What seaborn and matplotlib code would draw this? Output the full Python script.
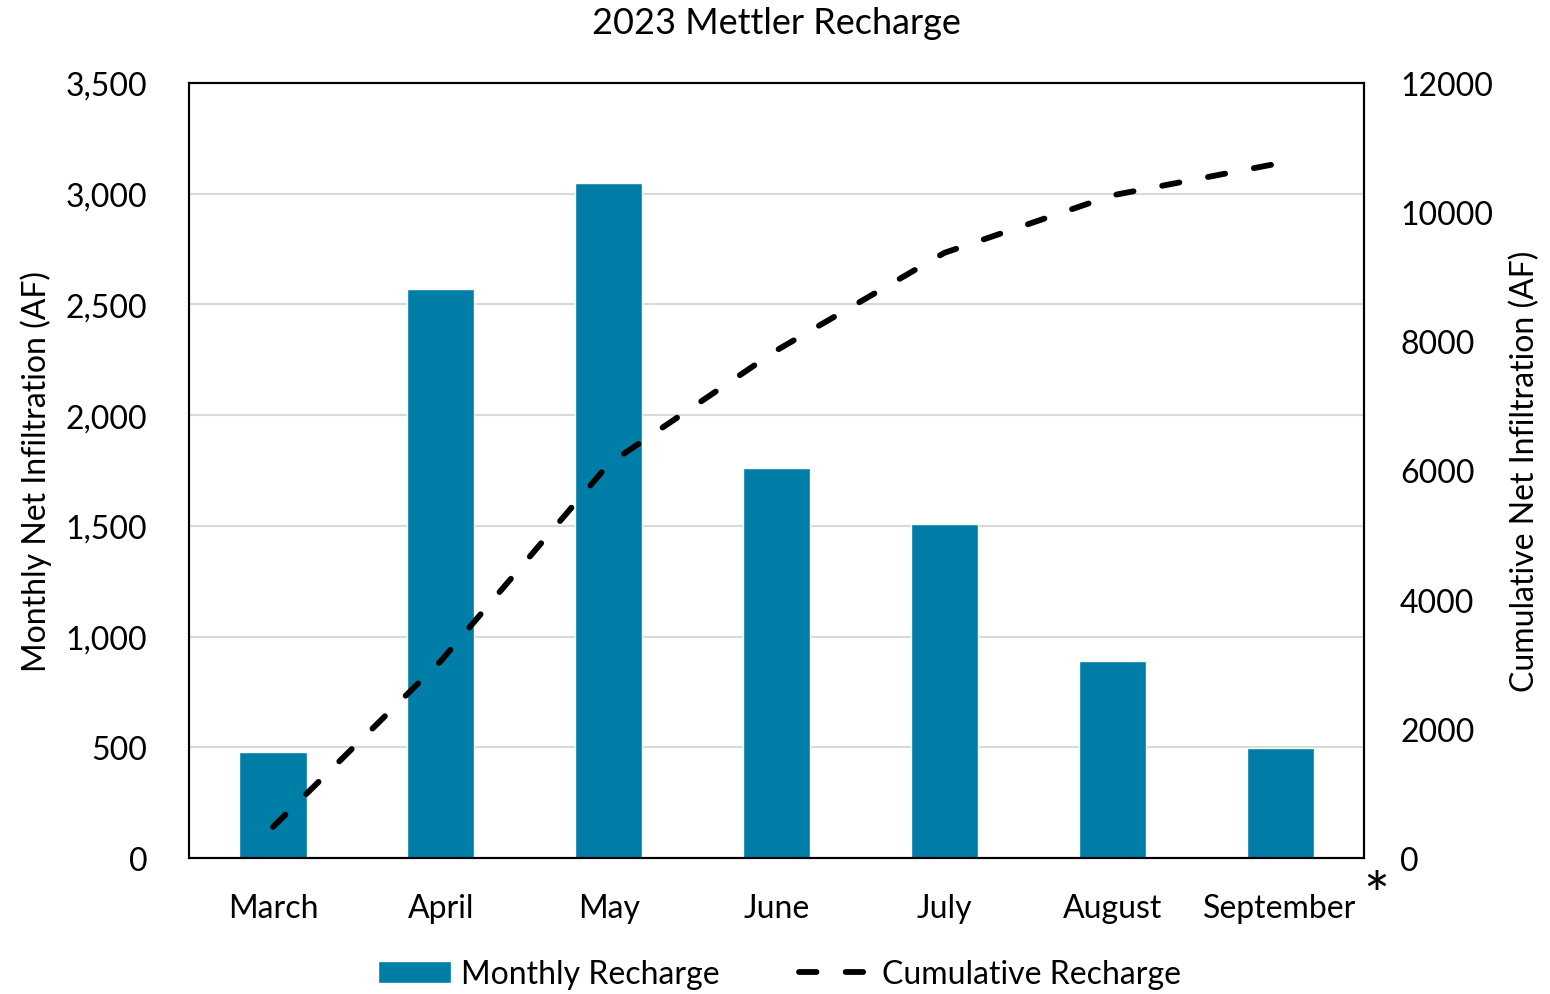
import numpy as np
import matplotlib
matplotlib.use("Agg")
import matplotlib.pyplot as plt
import seaborn as sns

months = ["March", "April", "May", "June", "July", "August", "September"]
monthly_recharge = [480, 2570, 3050, 1760, 1510, 890, 495]
cumulative_recharge = [480, 3050, 6100, 7860, 9370, 10260, 10760]

BAR_BLUE = "#007EA7"
GRID_GRAY = "#D9D9D9"

sns.set_style("white")
plt.rcParams["font.family"] = ["Lato", "DejaVu Sans"]
plt.rcParams["font.size"] = 23
plt.rcParams["text.color"] = "black"
plt.rcParams["axes.labelcolor"] = "black"
plt.rcParams["xtick.color"] = "black"
plt.rcParams["ytick.color"] = "black"

fig = plt.figure(figsize=(15.5, 9.95), dpi=100)
ax = fig.add_axes([189 / 1550, 136 / 995, 1175 / 1550, 775 / 995])

sns.barplot(x=months, y=monthly_recharge, color=BAR_BLUE, width=0.4,
            saturation=1, label="Monthly Recharge", ax=ax, zorder=2)
ax.set_ylim(0, 3500)
ax.set_yticks(np.arange(0, 3501, 500))
ax.set_yticklabels([f"{v:,}" for v in range(0, 3501, 500)])
ax.yaxis.grid(True, color=GRID_GRAY, linewidth=1.5, zorder=0)
ax.set_axisbelow(True)
ax.tick_params(axis="y", length=0, pad=30, labelsize=23)
ax.tick_params(axis="x", length=0, pad=25, labelsize=23)
ax.set_xlabel("")
ax.set_ylabel("Monthly Net Infiltration (AF)", fontsize=23)
ax.yaxis.set_label_coords(-0.117, 0.5)

ax2 = ax.twinx()
sns.lineplot(x=np.arange(len(months)), y=cumulative_recharge, color="black",
             linewidth=4.2, linestyle=(0, (3.0, 5.0)), label="Cumulative Recharge",
             ax=ax2)
for line in ax2.lines:
    line.set_dash_capstyle("round")
ax2.set_ylim(0, 12000)
ax2.set_yticks(np.arange(0, 12001, 2000))
ax2.tick_params(axis="y", length=0, pad=26, labelsize=23)
ax2.set_ylabel("Cumulative Net Infiltration (AF)", fontsize=23)
ax2.yaxis.set_label_coords(1.124, 0.5)
ax2.grid(False)
ax2.set_xlim(-0.5, len(months) - 0.5)

for a in (ax, ax2):
    for s in a.spines.values():
        s.set_visible(True)
        s.set_color("black")
        s.set_linewidth(1.5)

ax.set_title("2023 Mettler Recharge", fontsize=26, pad=36)
# superscript asterisk after "September"
fig.text(1376 / 1550, 1 - 900 / 995, "*", fontsize=44, ha="center", va="center")

h1, l1 = ax.get_legend_handles_labels()
h2, l2 = ax2.get_legend_handles_labels()
if ax2.get_legend() is not None:
    ax2.get_legend().remove()
if ax.get_legend() is not None:
    ax.get_legend().remove()
fig.legend(h1 + h2, l1 + l2, loc="center", bbox_to_anchor=(0.503, 0.02),
           ncol=2, frameon=False, fontsize=23, handlelength=2.3,
           handleheight=0.7, columnspacing=2.5, handletextpad=0.3)

fig.savefig("out.png", dpi=100)
